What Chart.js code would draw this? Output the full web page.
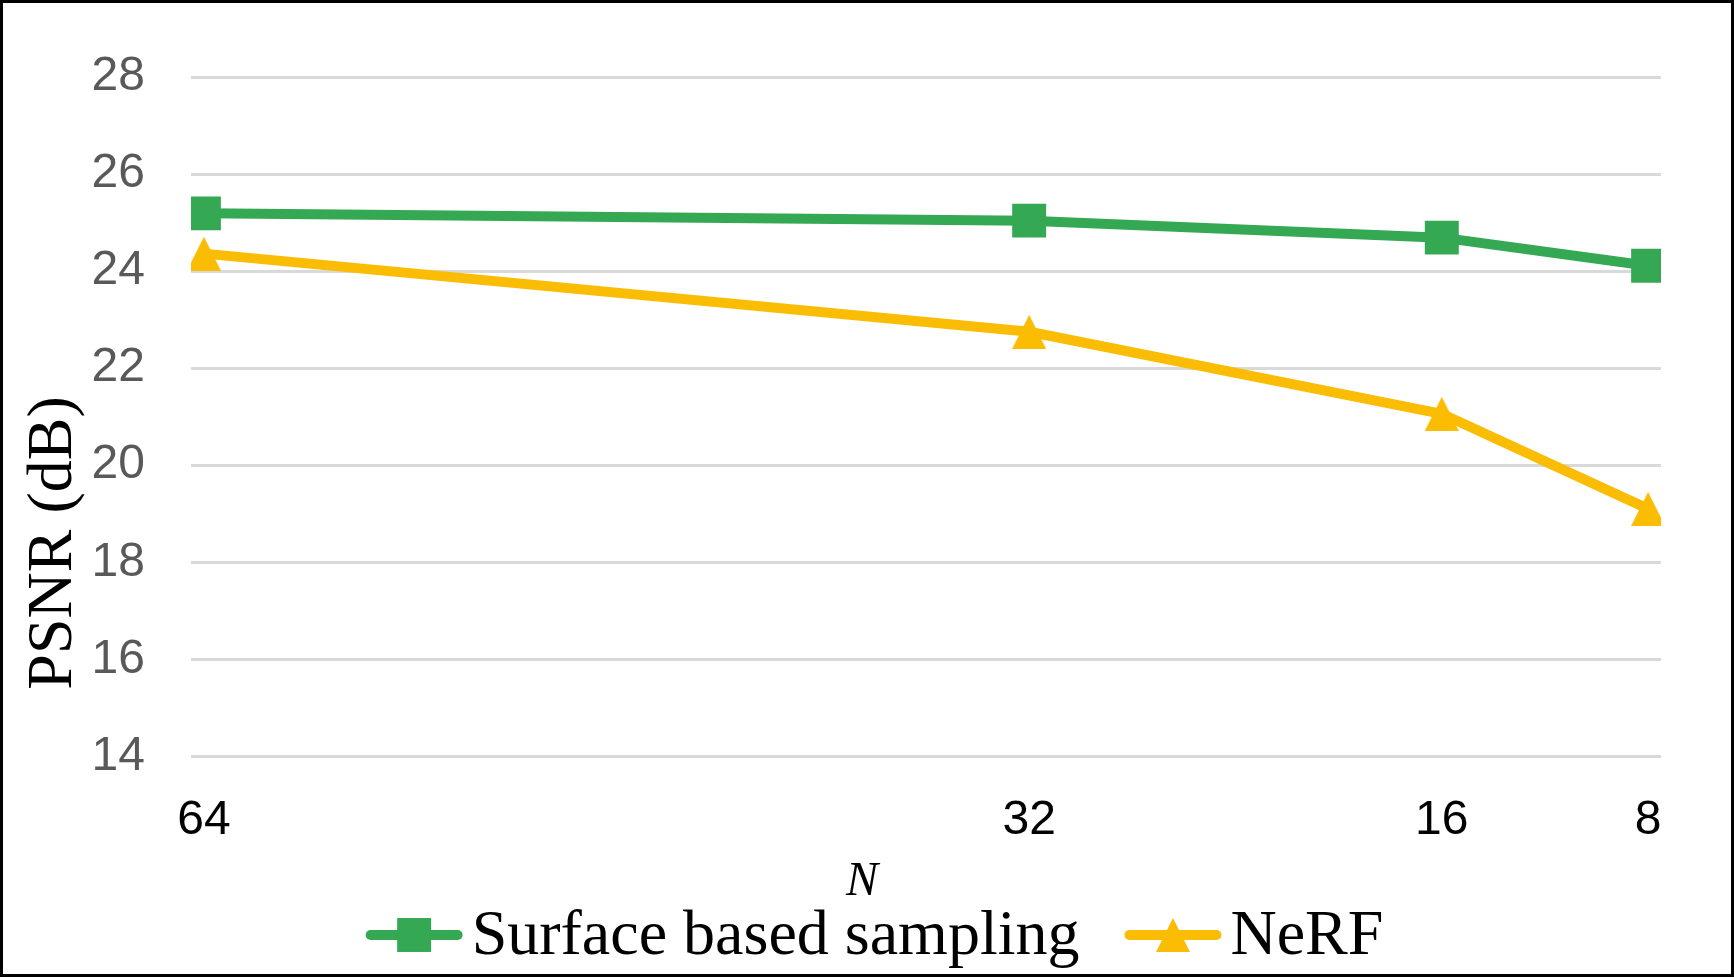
<!DOCTYPE html>
<html>
<head>
<meta charset="utf-8">
<script src="https://cdn.jsdelivr.net/npm/chart.js@4.4.1/dist/chart.umd.min.js"></script>
<style>
  html, body { margin: 0; padding: 0; background: #fff; }
  canvas { display: block; }
</style>
</head>
<body>
<canvas id="psnrChart" width="1734" height="977"></canvas>
<script>
// values
const sampleCounts = [64, 32, 16, 8];
const surfacePsnr = [25.19, 25.04, 24.69, 24.11];
const nerfPsnr = [24.36, 22.75, 21.06, 19.10];
const seriesNames = ['Surface based sampling', 'NeRF'];
const yTicks = [14, 16, 18, 20, 22, 24, 26, 28];
const xTitle = 'N';
const yTitle = 'PSNR (dB)';

const GREEN = '#34a853';
const YELLOW = '#fbbc04';
const SANS = '"Liberation Sans", Arial, sans-serif';
const SERIF = '"Liberation Serif", "Times New Roman", serif';

// Excel style triangle: as wide as it is tall
function triangleMarker(color, size) {
    const c = document.createElement('canvas');
    c.width = size;
    c.height = size;
    const g = c.getContext('2d');
    g.fillStyle = color;
    g.beginPath();
    g.moveTo(size / 2, 0);
    g.lineTo(size, size);
    g.lineTo(0, size);
    g.closePath();
    g.fill();
    return c;
}

function drawMarker(ctx, ds, x, y) {
    if (ds.pointStyle instanceof HTMLCanvasElement) {
        const img = ds.pointStyle;
        ctx.drawImage(img, x - img.width / 2, y - img.height / 2);
    } else {
        const side = ds.pointRadius * Math.SQRT2;
        ctx.fillStyle = ds.borderColor;
        ctx.fillRect(x - side / 2, y - side / 2, side, side);
    }
}

// white page + black frame
const frame = {
    id: 'frame',
    beforeDraw(chart) {
        const ctx = chart.ctx;
        ctx.save();
        ctx.fillStyle = '#fff';
        ctx.fillRect(0, 0, chart.width, chart.height);
        ctx.restore();
    },
    afterDraw(chart) {
        const ctx = chart.ctx;
        ctx.save();
        ctx.strokeStyle = '#000';
        ctx.lineWidth = 3;
        ctx.strokeRect(1.5, 1.5, chart.width - 3, chart.height - 3);
        ctx.restore();
    }
};

// axis titles sit off-centre in the original, so they are placed by hand
const axisTitles = {
    id: 'axisTitles',
    afterDraw(chart) {
        const ctx = chart.ctx;
        ctx.save();
        ctx.fillStyle = '#000';
        ctx.textAlign = 'center';
        ctx.textBaseline = 'alphabetic';
        ctx.font = 'italic 48px ' + SERIF;
        ctx.fillText(xTitle, 862, 895);
        ctx.translate(71, 543);
        ctx.rotate(-Math.PI / 2);
        ctx.font = '64px ' + SERIF;
        ctx.fillText(yTitle, 0, 0);
        ctx.restore();
    }
};

// legend with line + marker like Excel
const lineLegend = {
    id: 'lineLegend',
    afterDraw(chart) {
        const ctx = chart.ctx;
        const sets = chart.data.datasets;
        const lineLen = 97, gap = 9, itemGap = 45, y = 935;
        ctx.save();
        ctx.font = '64px ' + SERIF;
        const widths = sets.map(ds => lineLen + gap + ctx.measureText(ds.label).width);
        const total = widths.reduce((a, b) => a + b, 0) + itemGap * (sets.length - 1);
        let x = 874.5 - total / 2;
        sets.forEach((ds, i) => {
            ctx.strokeStyle = ds.borderColor;
            ctx.lineWidth = 10;
            ctx.lineCap = 'round';
            ctx.beginPath();
            ctx.moveTo(x + 5, y);
            ctx.lineTo(x + lineLen - 5, y);
            ctx.stroke();
            drawMarker(ctx, ds, x + lineLen / 2, y);
            ctx.fillStyle = '#000';
            ctx.textAlign = 'left';
            ctx.textBaseline = 'alphabetic';
            ctx.fillText(ds.label, x + lineLen + gap, 954);
            x += widths[i] + itemGap;
        });
        ctx.restore();
    }
};

const toPoints = vals => sampleCounts.map((n, i) => ({ x: n, y: vals[i] }));

new Chart(document.getElementById('psnrChart'), {
    type: 'line',
    data: {
        datasets: [{
            label: seriesNames[0],
            data: toPoints(surfacePsnr),
            borderColor: GREEN,
            backgroundColor: GREEN,
            borderWidth: 10,
            borderJoinStyle: 'round',
            pointStyle: 'rect',
            pointRadius: 24,
            pointBorderWidth: 0,
            pointBackgroundColor: GREEN
        }, {
            label: seriesNames[1],
            data: toPoints(nerfPsnr),
            borderColor: YELLOW,
            backgroundColor: YELLOW,
            borderWidth: 10,
            borderJoinStyle: 'round',
            pointStyle: triangleMarker(YELLOW, 34),
            pointRadius: 17,
            pointBorderWidth: 0
        }]
    },
    options: {
        responsive: false,
        animation: false,
        events: [],
        layout: { padding: { left: 91, right: 73, top: 77, bottom: 91 } },
        scales: {
            x: {
                type: 'linear',
                reverse: true,
                min: 7.5,
                max: 64.5,
                afterBuildTicks: s => { s.ticks = sampleCounts.map(v => ({ value: v })); },
                grid: { display: false, drawTicks: false },
                border: { display: false },
                ticks: { color: '#000', padding: 36, autoSkip: false, maxRotation: 0, font: { family: SANS, size: 48 } }
            },
            y: {
                min: 14,
                max: 28,
                afterBuildTicks: s => { s.ticks = yTicks.map(v => ({ value: v })); },
                afterFit: s => { s.width = 100; },
                grid: { color: '#d9d9d9', lineWidth: 3, drawTicks: false },
                border: { display: false },
                ticks: { color: '#595959', padding: 46, font: { family: SANS, size: 48 } }
            }
        },
        plugins: {
            legend: { display: false },
            tooltip: { enabled: false }
        }
    },
    plugins: [frame, axisTitles, lineLegend]
});
</script>
</body>
</html>
